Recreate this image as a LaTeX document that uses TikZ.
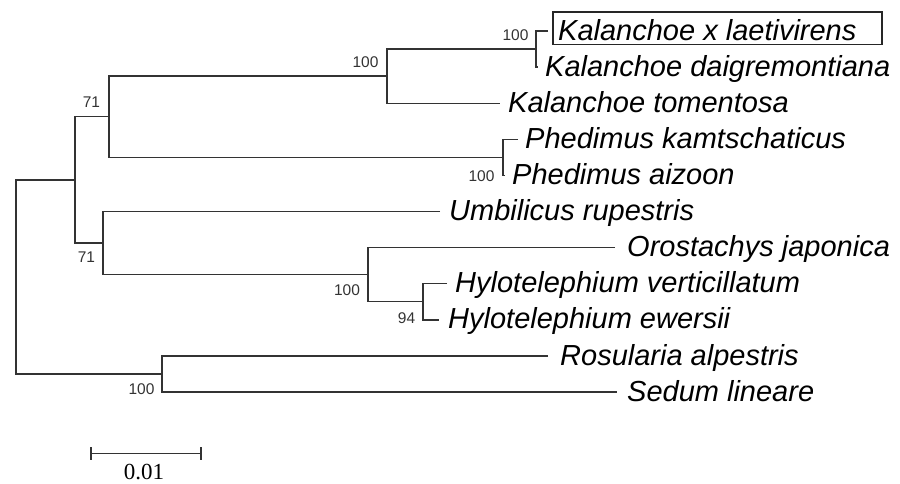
\documentclass[tikz,border=0pt]{standalone}
\usepackage{fontspec}
\setmainfont{Liberation Sans}
\newfontfamily\scalefont{Liberation Serif}
\begin{document}
\begin{tikzpicture}[x=1pt,y=-1pt,
  br/.style={draw=black!80, line width=1.4pt},
  taxon/.style={anchor=base west, inner sep=0pt, font=\fontsize{29}{30}\selectfont\itshape, text=black},
  boot/.style={inner sep=0pt, font=\fontsize{15.5}{16}\selectfont, text=black!80}]
\useasboundingbox (0,0) rectangle (900,483);
% internal nodes
\coordinate (root) at (16,276.9);
\coordinate (nA) at (75,179.9);
\coordinate (nB) at (109,116.7);
\coordinate (nC) at (387,76.1);
\coordinate (nH) at (536,49.05);
\coordinate (nP) at (503,157.35);
\coordinate (nD) at (103,243.1);
\coordinate (nE) at (368,274.7);
\coordinate (nF) at (423,301.75);
\coordinate (nG) at (162,373.95);
% branch tips
\coordinate (eLae) at (548,31);
\coordinate (eDai) at (538,67.1);
\coordinate (eTom) at (500,103.2);
\coordinate (eKam) at (518,139.3);
\coordinate (eAiz) at (505,175.4);
\coordinate (eUmb) at (440,211.5);
\coordinate (eOro) at (615,247.6);
\coordinate (eVer) at (447,283.7);
\coordinate (eEwe) at (439,319.8);
\coordinate (eRos) at (548,355.9);
\coordinate (eSed) at (617,392);
% branches
\draw[br] (eLae) -| (nH) |- (eDai);
\draw[br] (nH) -| (nC) |- (eTom);
\draw[br] (nC) -| (nB) |- (nP);
\draw[br] (eKam) -| (nP) |- (eAiz);
\draw[br] (nB) -| (nA) |- (nD);
\draw[br] (eUmb) -| (nD) |- (nE);
\draw[br] (eOro) -| (nE) |- (nF);
\draw[br] (eVer) -| (nF) |- (eEwe);
\draw[br] (nA) -| (root) |- (nG);
\draw[br] (eRos) -| (nG) |- (eSed);
% taxa
\node[taxon] (tLae) at (558,40) {Kalanchoe x laetivirens};
\node[taxon] (tDai) at (545,76) {Kalanchoe daigremontiana};
\node[taxon] (tTom) at (508,112) {Kalanchoe tomentosa};
\node[taxon] (tKam) at (525,148) {Phedimus kamtschaticus};
\node[taxon] (tAiz) at (512,184) {Phedimus aizoon};
\node[taxon] (tUmb) at (449,220) {Umbilicus rupestris};
\node[taxon] (tOro) at (627,256.5) {Orostachys japonica};
\node[taxon] (tVer) at (455,292.5) {Hylotelephium verticillatum};
\node[taxon] (tEwe) at (448,328.5) {Hylotelephium ewersii};
\node[taxon] (tRos) at (560,365) {Rosularia alpestris};
\node[taxon] (tSed) at (627,401) {Sedum lineare};
\draw[black!85, line width=1.2pt] (553,12) rectangle (882,44.5);
% bootstrap values
\node[boot] (b1) at (515.5,35) {100};
\node[boot] (b2) at (365.5,62) {100};
\node[boot] (b3) at (91.5,102.5) {71};
\node[boot] (b4) at (481.5,176.5) {100};
\node[boot] (b5) at (86.5,257.5) {71};
\node[boot] (b6) at (347,290.5) {100};
\node[boot] (b7) at (406.5,318) {94};
\node[boot] (b8) at (141.5,389) {100};
% scale bar
\coordinate (sL) at (91,453.5);
\coordinate (sR) at (201,453.5);
\draw[br] (sL) -- (sR);
\draw[br] ([yshift=6.5pt]sL) -- ([yshift=-6.5pt]sL);
\draw[br] ([yshift=6.5pt]sR) -- ([yshift=-6.5pt]sR);
\node[anchor=base, inner sep=0pt, font=\scalefont\fontsize{23}{24}\selectfont] (sLab) at (144,479) {0.01};
\end{tikzpicture}
\end{document}
